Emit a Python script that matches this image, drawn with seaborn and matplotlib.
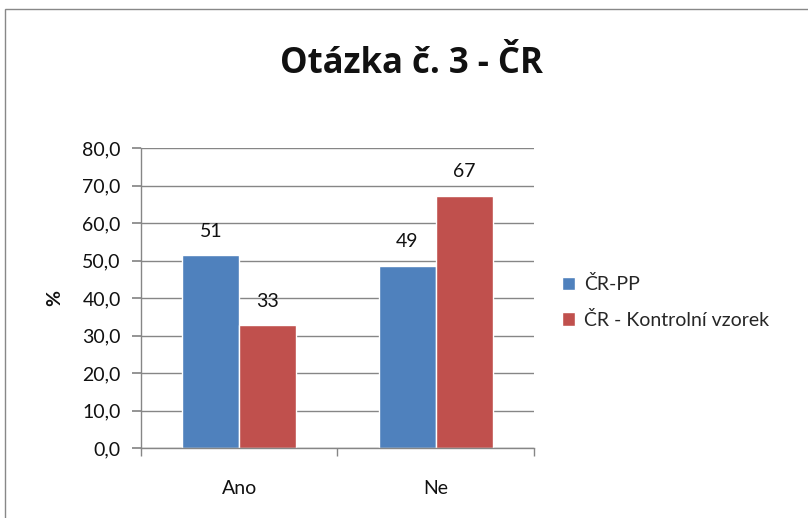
import matplotlib
matplotlib.use("Agg")
import matplotlib.pyplot as plt
import seaborn as sns
import pandas as pd
from matplotlib.ticker import FuncFormatter, FixedLocator
from matplotlib.patches import Rectangle

categories = ["Ano", "Ne"]
series_names = ["ČR-PP", "ČR - Kontrolní vzorek"]
values_pp = [51.4, 48.6]
values_kv = [32.7, 67.3]
title = "Otázka č. 3 - ČR"
y_label = "%"
y_ticks = [0, 10, 20, 30, 40, 50, 60, 70, 80]

df = pd.DataFrame({
    "kategorie": categories * 2,
    "serie": [series_names[0]] * len(categories) + [series_names[1]] * len(categories),
    "hodnota": values_pp + values_kv,
})

sns.set_theme(style="white")
plt.rcParams["font.family"] = ["Lato", "DejaVu Sans"]

fig = plt.figure(figsize=(8.08, 5.18), dpi=100)
ax = fig.add_axes([141/808, 1-448/518, (534-141)/808, (448-148)/518])

palette = {series_names[0]: "#4F81BD", series_names[1]: "#C0504D"}
sns.barplot(data=df, x="kategorie", y="hodnota", hue="serie", palette=palette,
            order=categories, hue_order=series_names, width=0.58, ax=ax,
            saturation=1, errorbar=None, legend=True)

for cont in ax.containers:
    ax.bar_label(cont, fmt="%.0f", padding=11, fontsize=14, color="#111111")

ax.set_ylim(0, 80)
ax.set_xlim(-0.5, 1.5)
ax.set_yticks(y_ticks)
ax.yaxis.set_major_formatter(FuncFormatter(lambda v, p: f"{v:.1f}".replace(".", ",")))
ax.grid(axis="y", color="#868686", linewidth=1)
ax.set_axisbelow(True)
for s in ["top", "right"]:
    ax.spines[s].set_visible(False)
for s in ["left", "bottom"]:
    ax.spines[s].set_color("#868686")
    ax.spines[s].set_linewidth(1)

ax.tick_params(axis="y", which="major", left=True, length=6.5, color="#868686",
               labelsize=14, labelcolor="#111111", pad=8)
ax.tick_params(axis="x", which="major", bottom=False, labelsize=14,
               labelcolor="#111111", pad=17)
ax.xaxis.set_minor_locator(FixedLocator([-0.5, 0.5, 1.5]))
ax.tick_params(axis="x", which="minor", bottom=True, length=6, color="#868686", width=1)

ax.set_xlabel("")
ax.set_ylabel(y_label, fontsize=14, fontweight="bold", labelpad=14, color="#111111")

fig.text(411/808, 1-64/518, title, ha="center", va="center", fontsize=25,
         fontweight="bold", color="#111111", family=["Open Sans", "DejaVu Sans"])

handles, labels = ax.get_legend_handles_labels()
if ax.legend_:
    ax.legend_.remove()
fig.legend(handles, labels, loc="center left", bbox_to_anchor=(554/808, 1-302/518),
           frameon=False, fontsize=14, handlelength=0.7, handleheight=0.7,
           handletextpad=0.45, labelspacing=0.9, borderaxespad=0)

fig.patches.append(Rectangle((5/808, -0.05), 1.2, 1-9/518+0.05, transform=fig.transFigure,
                             fill=False, edgecolor="#888888", linewidth=1))

fig.savefig("out.png", dpi=100)
